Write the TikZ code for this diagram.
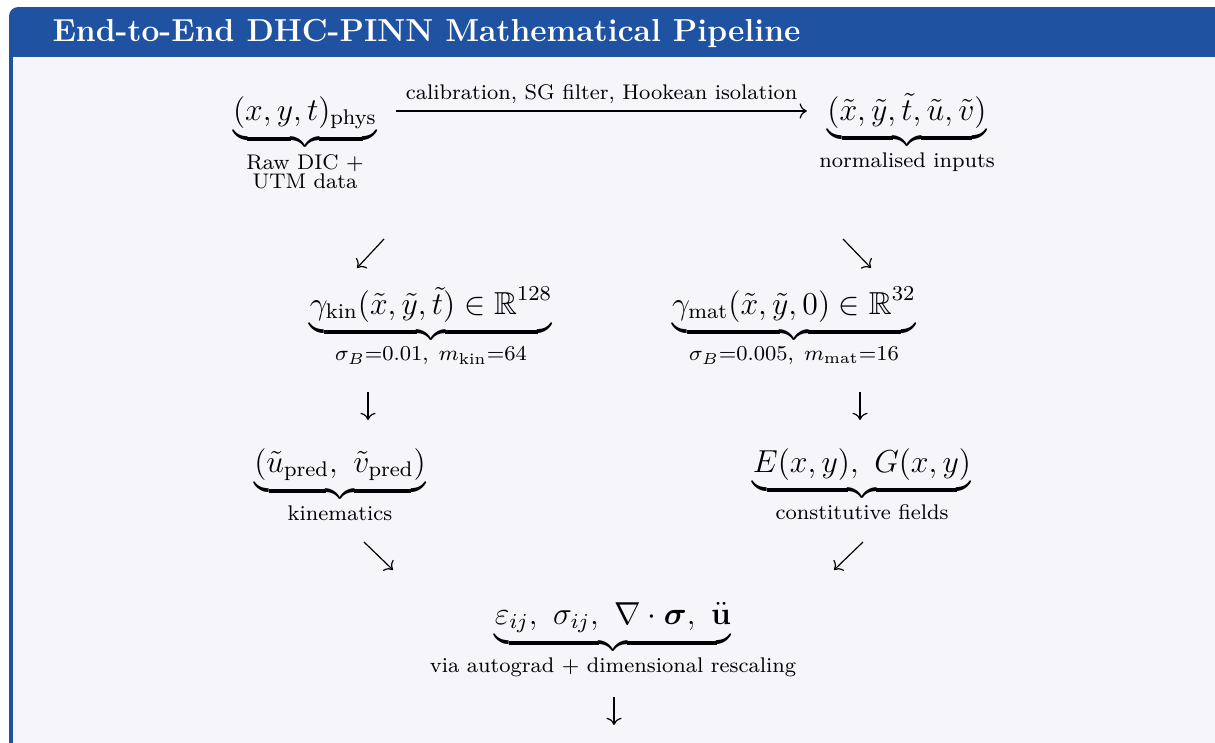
\documentclass[tikz,border=0pt]{standalone}
\usepackage{amsmath}
\usepackage{amssymb}
\usepackage{bm}
\usetikzlibrary{arrows.meta, positioning}
\definecolor{boxBlue}{RGB}{31,82,160}
\definecolor{boxBack}{RGB}{245,245,250}
\tikzset{
  stage/.style={anchor=base, inner sep=0pt, font=\large},
  flow/.style={-{To[scale=1.05]}, line width=0.45pt},
}

\begin{document}
\begin{tikzpicture}[x=0.3775pt, y=-0.3775pt]
    \useasboundingbox (0,0) rectangle (1215,742);
    \clip (0,0) rectangle (1215,742);
    \fill[white] (0,0) rectangle (1215,742);
    % frame and title bar
    \fill[boxBlue, rounded corners=3.5pt] (9,7) rectangle (1240,780);
    \fill[boxBack] (13,57) rectangle (1240,780);
    \node[anchor=base west, inner sep=0pt, text=white, font=\large\bfseries] (title) at (52,41)
      {End-to-End DHC-PINN Mathematical Pipeline};

    % row 1
    \node[stage] (raw) at (305,120)
      {$\underbrace{(x,y,t)_{\text{phys}}}_{\substack{\text{Raw DIC +}\\ \text{UTM data}}}$};
    \node[stage] (norm) at (907,120)
      {$\underbrace{(\tilde{x},\tilde{y},\tilde{t},\tilde{u},\tilde{v})}_{\text{normalised inputs}}$};
    \draw[flow] ([shift={(19,-9)}]raw.base east) -- ([shift={(-12,-9)}]norm.base west)
      node[midway, above=-0.8pt, font=\footnotesize] (prep) {calibration, SG filter, Hookean isolation};

    % row 2
    \node[stage] (kin) at (431,314)
      {$\underbrace{\gamma_{\text{kin}}(\tilde{x},\tilde{y},\tilde{t})\in\mathbb{R}^{128}}_{\sigma_B=0.01,\ m_{\text{kin}}=64}$};
    \node[stage] (mat) at (794,314)
      {$\underbrace{\gamma_{\text{mat}}(\tilde{x},\tilde{y},0)\in\mathbb{R}^{32}}_{\sigma_B=0.005,\ m_{\text{mat}}=16}$};
    \coordinate (kinIn) at (384,239);
    \coordinate (kinTip) at (357,268);
    \coordinate (matIn) at (843,239);
    \coordinate (matTip) at (871,268);
    \draw[flow] (kinIn) -- (kinTip);
    \draw[flow] (matIn) -- (matTip);

    % row 3
    \node[stage] (pred) at (340,472)
      {$\underbrace{(\tilde{u}_{\text{pred}},\ \tilde{v}_{\text{pred}})}_{\text{kinematics}}$};
    \node[stage] (fields) at (862,472)
      {$\underbrace{E(x,y),\ G(x,y)}_{\text{constitutive fields}}$};
    \coordinate (predIn) at (368,392);
    \coordinate (predTip) at (368,420);
    \coordinate (fieldsIn) at (860,392);
    \coordinate (fieldsTip) at (860,420);
    \draw[flow] (predIn) -- (predTip);
    \draw[flow] (fieldsIn) -- (fieldsTip);

    % row 4
    \node[stage] (strain) at (613,624)
      {$\underbrace{\varepsilon_{ij},\ \sigma_{ij},\ \nabla\cdot\boldsymbol{\sigma},\ \ddot{\mathbf{u}}}_{\text{via autograd + dimensional rescaling}}$};
    \coordinate (leftIn) at (364,542);
    \coordinate (leftTip) at (393,570);
    \coordinate (rightIn) at (863,542);
    \coordinate (rightTip) at (834,570);
    \coordinate (outIn) at (614,697);
    \coordinate (outTip) at (614,725);
    \draw[flow] (leftIn) -- (leftTip);
    \draw[flow] (rightIn) -- (rightTip);
    \draw[flow] (outIn) -- (outTip);
  \end{tikzpicture}
\end{document}
